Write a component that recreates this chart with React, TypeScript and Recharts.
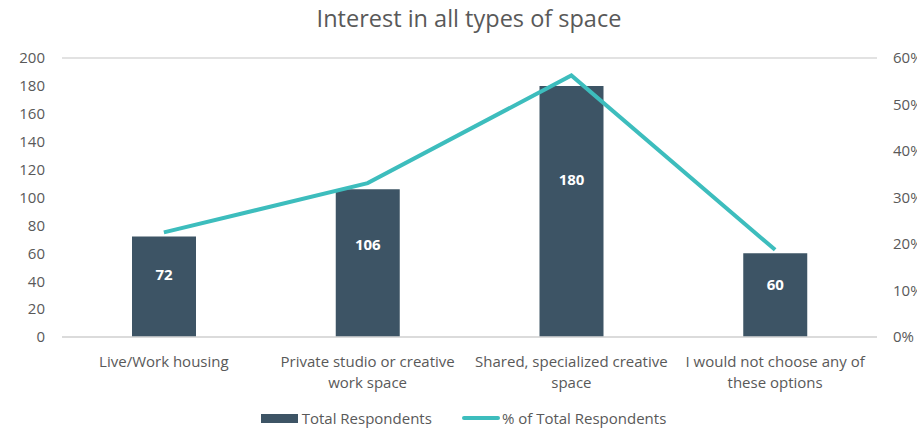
import { ComposedChart, Bar, Line, XAxis, YAxis, CartesianGrid, Legend, LabelList, Text } from 'recharts'

const categories = [
  'Live/Work housing',
  'Private studio or creative work space',
  'Shared, specialized creative space',
  'I would not choose any of these options',
]
const totalRespondents = [72, 106, 180, 60]
const pctRespondents = [0.225, 0.331, 0.5625, 0.1875]
const leftTicks = [0, 20, 40, 60, 80, 100, 120, 140, 160, 180, 200]
const rightTicks = [0, 0.1, 0.2, 0.3, 0.4, 0.5, 0.6]

const data = categories.map((name, i) => ({
  name,
  total: totalRespondents[i],
  pct: pctRespondents[i],
}))

const FONT = '"Open Sans", Lato, sans-serif'
const BAR = '#3d5465'
const LINE = '#3dbdbd'
const TXT = '#595959'

function CategoryTick(props: any) {
  const { x, y, payload } = props
  return (
    <Text
      x={x}
      y={y + 11}
      width={207}
      textAnchor="middle"
      verticalAnchor="start"
      fill={TXT}
      style={{ fontSize: 15, fontFamily: FONT }}
      lineHeight={21}
    >
      {payload.value}
    </Text>
  )
}

function BarValue(props: any) {
  const { x, y, width, height, value } = props
  return (
    <text
      x={x + width / 2}
      y={y + height * 0.37}
      textAnchor="middle"
      dominantBaseline="central"
      fill="#fff"
      fontSize={15}
      fontWeight={700}
      fontFamily={FONT}
    >
      {value}
    </text>
  )
}

function LegendBox() {
  return (
    <div
      style={{
        display: 'flex',
        justifyContent: 'center',
        alignItems: 'center',
        fontFamily: FONT,
        fontSize: 15,
        color: TXT,
        marginLeft: 10,
        paddingTop: 5,
      }}
    >
      <span style={{ display: 'inline-block', width: 37, height: 9, background: BAR, marginRight: 4 }} />
      <span>Total Respondents</span>
      <span style={{ display: 'inline-block', width: 38, height: 4, background: LINE, marginLeft: 30, marginRight: 2, borderRadius: 2 }} />
      <span>% of Total Respondents</span>
    </div>
  )
}

export default function App() {
  return (
    <div style={{ position: 'absolute', left: 0, top: 0, width: 917, height: 430, background: '#fff' }}>
      <div
        style={{
          position: 'absolute',
          top: 2,
          left: 0,
          width: 938,
          textAlign: 'center',
          fontFamily: FONT,
          fontSize: 23.5,
          color: TXT,
        }}
      >
        Interest in all types of space
      </div>
      <ComposedChart width={917} height={430} data={data} margin={{ top: 58, right: 0, left: 0, bottom: 0 }}>
        <CartesianGrid vertical={false} stroke="#d9d9d9" strokeWidth={1.5} />
        <XAxis
          dataKey="name"
          tick={<CategoryTick />}
          tickLine={false}
          axisLine={{ stroke: '#d9d9d9', strokeWidth: 1.5 }}
          height={66}
          interval={0}
        />
        <YAxis
          yAxisId="left"
          domain={[0, 200]}
          ticks={leftTicks}
          width={62}
          tickLine={false}
          axisLine={false}
          tickSize={0}
          tickMargin={17}
          tick={{ fill: TXT, fontSize: 15, fontFamily: FONT }}
        />
        <YAxis
          yAxisId="right"
          orientation="right"
          domain={[0, 0.6]}
          ticks={rightTicks}
          width={40}
          tickLine={false}
          axisLine={false}
          tickSize={0}
          tickMargin={16}
          tickFormatter={(v: number) => `${Math.round(v * 100)}%`}
          tick={{ fill: TXT, fontSize: 15, fontFamily: FONT, textAnchor: 'start' }}
        />
        <Legend verticalAlign="bottom" height={27} content={<LegendBox />} />
        <Bar yAxisId="left" dataKey="total" name="Total Respondents" fill={BAR} barSize={64} isAnimationActive={false}>
          <LabelList dataKey="total" content={<BarValue />} />
        </Bar>
        <Line
          yAxisId="right"
          dataKey="pct"
          name="% of Total Respondents"
          stroke={LINE}
          strokeWidth={4}
          dot={false}
          type="linear"
          isAnimationActive={false}
        />
      </ComposedChart>
    </div>
  )
}
